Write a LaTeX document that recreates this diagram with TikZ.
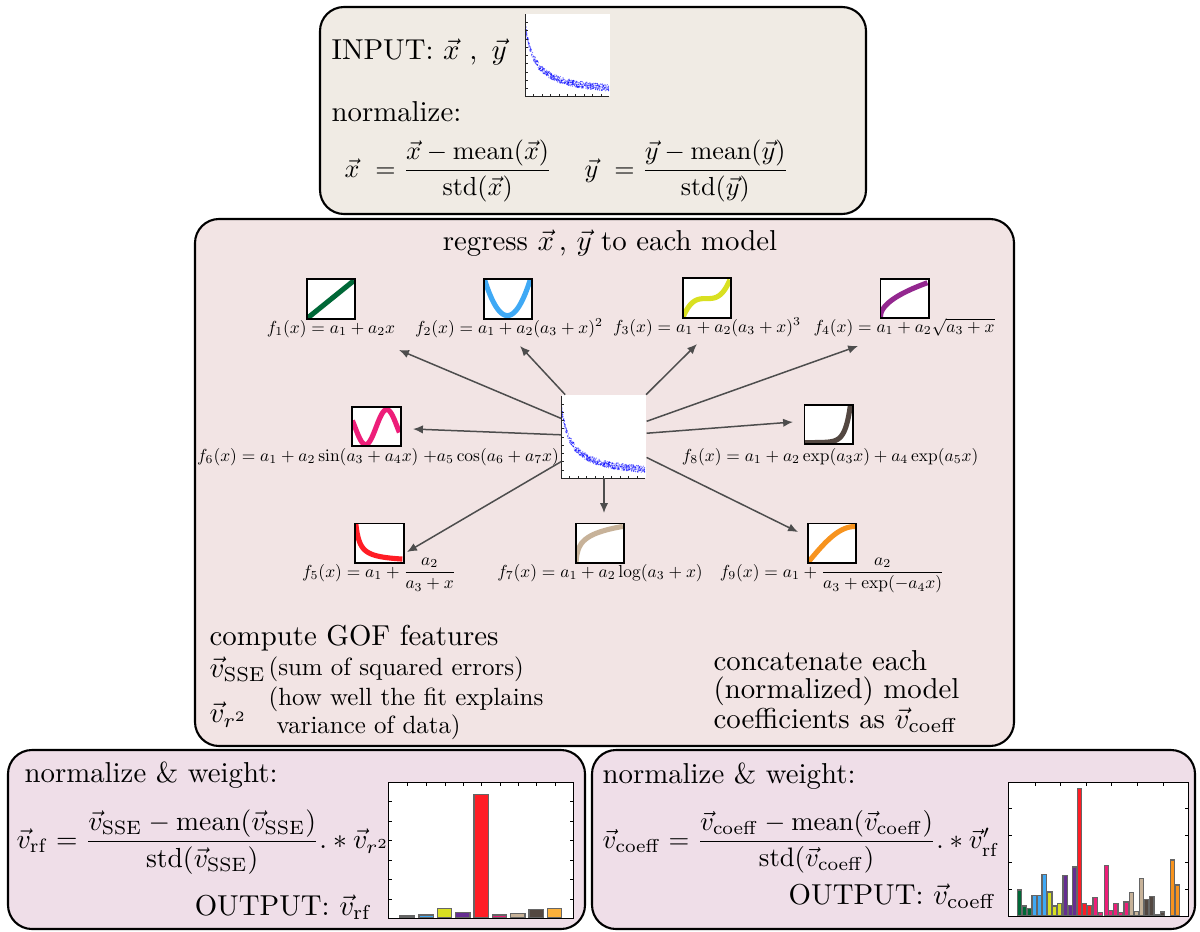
\documentclass[tikz,border=0pt]{standalone}
\usepackage{amsmath}
\usepackage{graphicx}
\usetikzlibrary{arrows.meta}
\definecolor{boxtop}{RGB}{240,235,228}
\definecolor{boxmid}{RGB}{242,228,228}
\definecolor{boxbot}{RGB}{239,222,232}
\definecolor{cG}{RGB}{0,104,55}
\definecolor{cB}{RGB}{63,169,245}
\definecolor{cY}{RGB}{217,224,33}
\definecolor{cP}{RGB}{102,45,145}
\definecolor{cPi}{RGB}{147,39,143}
\definecolor{cR}{RGB}{255,29,37}
\definecolor{cK}{RGB}{237,30,121}
\definecolor{cT}{RGB}{199,178,153}
\definecolor{cD}{RGB}{83,71,65}
\definecolor{cO}{RGB}{247,147,30}
\definecolor{cOl}{RGB}{251,176,59}
\definecolor{cN}{RGB}{27,20,100}
\definecolor{arrgray}{RGB}{77,77,77}
\newcommand\tA[1]{\scalebox{0.96}{#1}}
\newcommand\tB[1]{\scalebox{0.92}{#1}}
\newcommand\tC[1]{\scalebox{0.89}{#1}}
\newcommand\tF[1]{\scalebox{0.87}{#1}}
\newcommand\tS[1]{\scalebox{0.83}{#1}}
\newcommand\tL[1]{\scalebox{0.58}{#1}}
\newcommand\scatterplot[1]{%
  \begin{scope}[shift={(#1.south west)}, x=28pt, y=27.5pt]
    \pgfmathsetseed{11}
    \foreach \i in {1,...,560}{%
      \pgfmathsetmacro\u{rnd}%
      \pgfmathsetmacro\v{0.02+0.1/(\u+0.12)+0.08*(rnd-0.5)}%
      \fill[blue, opacity=0.5] (\u,\v) circle[radius=0.22pt];
    }
    \draw[black!85, line width=0.35pt] (0,1) -- (0,0) -- (1,0);
    \foreach \t in {0.1,0.2,...,0.95}{%
      \draw[black!85, line width=0.3pt] (\t,0) -- (\t,0.03);
      \draw[black!85, line width=0.3pt] (0,\t) -- (0.03,\t);
    }
  \end{scope}}
\newcommand\modelicon[4]{%
  \node[iconbox] (#1) at (#2) {};
  \begin{scope}
    \clip (#1.south west) rectangle (#1.north east);
    \begin{scope}[shift={(#1.south west)}, x=15.67pt, y=12.67pt]
      \draw[#3, line width=1.7pt] plot[domain=0:1, samples=80] (\x,{#4});
    \end{scope}
  \end{scope}
  \draw[iconframe] (#1.south west) rectangle (#1.north east);}
\begin{document}
\begin{tikzpicture}[x=0.3333pt,y=-0.3333pt,
  panel/.style={draw=black, line width=0.7pt, rounded corners=8pt},
  txt/.style={inner sep=0pt, font=\normalsize},
  lbl/.style={inner sep=0pt, anchor=base, font=\normalsize},
  iconbox/.style={inner sep=0pt, minimum width=15.67pt, minimum height=12.67pt, fill=white},
  iconframe/.style={draw=black, line width=0.6pt},
  plotbox/.style={inner sep=0pt, minimum width=28pt, minimum height=27.5pt, fill=white},
  arr/.style={draw=arrgray, line width=0.5pt, -{Latex[length=3.3pt,width=2.8pt]}},
  barbox/.style={draw=black!60, line width=0.35pt},
  tick/.style={draw=black, line width=0.3pt},
]
\useasboundingbox (0,0) rectangle (1200,931);
\fill[white] (0,0) rectangle (1200,931);

% panels
\draw[panel, fill=boxtop] (320,7) rectangle (866,214);
\draw[panel, fill=boxmid] (195,219) rectangle (1014,746);
\draw[panel, fill=boxbot] (8,750) rectangle (585,929);
\draw[panel, fill=boxbot] (592,750) rectangle (1195,929);

% ---------- top panel
\node[txt, anchor=base west] (inlbl) at (331,60) {\tA{INPUT: $\vec{x}$ , \,$\vec{y}$}};
\node[plotbox] (inplot) at (568,55) {};
\scatterplot{inplot}
\node[txt, anchor=base west] (norm) at (331,122) {\tA{normalize:}};
\node[txt, anchor=west] (fx) at (344,171) {\tF{$\vec{x}\ = \dfrac{\vec{x}-\mathrm{mean}(\vec{x})}{\mathrm{std}(\vec{x})}$}};
\node[txt, anchor=west] (fy) at (584,171) {\tF{$\vec{y}\ = \dfrac{\vec{y}-\mathrm{mean}(\vec{y})}{\mathrm{std}(\vec{y})}$}};

% ---------- middle panel
\node[txt, anchor=base] (title) at (610,250) {\tA{regress $\vec{x}\,$, $\vec{y}$ to each model}};
\node[plotbox] (c) at (604,436.5) {};
\scatterplot{c}

\modelicon{i1}{331,299}{cG}{\x}
\modelicon{i2}{508,299}{cB}{0.08+4*(\x-0.5)*(\x-0.5)}
\modelicon{i3}{707,298}{cY}{0.5+4*(\x-0.5)*(\x-0.5)*(\x-0.5)}
\modelicon{i4}{904.5,298.5}{cPi}{0.03+0.9*sqrt(\x)}
\modelicon{i6}{376.5,426.5}{cK}{0.5+0.46*cos(400*(\x-0.73))}
\modelicon{i8}{828.5,424.5}{cD}{0.04+exp(9*(\x-0.98))}
\modelicon{i5}{379.5,543}{cR}{0.01+0.09/(\x+0.08)}
\modelicon{i7}{600,543}{cT}{0.95+0.22*ln(\x+0.012)}
\modelicon{i9}{832,543}{cO}{0.95*sin(90*\x)}

\node[lbl] (l1) at (331,333) {\tL{$f_1(x)=a_1+a_2x$}};
\node[lbl] (l2) at (509,333) {\tL{$f_2(x)=a_1+a_2(a_3+x)^2$}};
\node[lbl] (l3) at (707,332) {\tL{$f_3(x)=a_1+a_2(a_3+x)^3$}};
\node[lbl] (l4) at (904,332) {\tL{$f_4(x)=a_1+a_2\sqrt{a_3+x}$}};
\node[lbl] (l6) at (378,461) {\tL{$f_6(x)=a_1+a_2\sin(a_3+a_4x)\;{+a_5}\cos(a_6+a_7x)$}};
\node[lbl] (l8) at (830,461) {\tL{$f_8(x)=a_1+a_2\exp(a_3x)+a_4\exp(a_5x)$}};
\node[lbl] (l5) at (379,577) {\tL{$f_5(x)=a_1+\dfrac{a_2}{a_3+x}$}};
\node[lbl] (l7) at (600,577) {\tL{$f_7(x)=a_1+a_2\log(a_3+x)$}};
\node[lbl] (l9) at (832,577) {\tL{$f_9(x)=a_1+\dfrac{a_2}{a_3+\exp(-a_4x)}$}};

\coordinate (t1) at (399,350);
\coordinate (t2) at (520,346);
\coordinate (t3) at (697,344);
\coordinate (t4) at (858,346);
\coordinate (t6) at (413,429);
\coordinate (t8) at (793,422);
\coordinate (t5) at (407,552);
\coordinate (t7) at (604,513);
\coordinate (t9) at (798,532);
\foreach \t in {t1,t2,t3,t4,t6,t8,t5,t7,t9}{\draw[arr] (c) -- (\t);}

\node[txt, anchor=base west] (gof) at (209,645) {\tA{compute GOF features}};
\node[txt, anchor=base west] (vsse) at (209,677) {\tA{$\vec{v}_{\mathrm{SSE}}$}};
\node[txt, anchor=base west] (sse) at (268,675) {\tS{(sum of squared errors)}};
\node[txt, anchor=base west] (vr2) at (209,722) {\tA{$\vec{v}_{r^2}$}};
\node[txt, anchor=base west] (r2a) at (268,705) {\tS{(how well the fit explains}};
\node[txt, anchor=base west] (r2b) at (276,733) {\tS{variance of data)}};
\node[txt, anchor=base west] (cc1) at (713,670) {\tA{concatenate each}};
\node[txt, anchor=base west] (cc2) at (713,698) {\tA{(normalized) model}};
\node[txt, anchor=base west] (cc3) at (713,728) {\tA{coefficients as $\vec{v}_{\mathrm{coeff}}$}};

% ---------- bottom left panel
\node[txt, anchor=base west] (nw1) at (24,782) {\tA{normalize \& weight:}};
\node[txt, anchor=west] (frf) at (16,842) {\tB{$\vec{v}_{\mathrm{rf}} = \dfrac{\vec{v}_{\mathrm{SSE}}-\mathrm{mean}(\vec{v}_{\mathrm{SSE}})}{\mathrm{std}(\vec{v}_{\mathrm{SSE}})}.*\vec{v}_{r^2}$}};
\node[txt, anchor=base east] (out1) at (373,915) {\tA{OUTPUT: $\vec{v}_{\mathrm{rf}}$}};
\node[inner sep=0pt, minimum width=61.33pt, minimum height=45pt, fill=white] (bl) at (481,850.5) {};
\foreach \d/\t/\c in {60/438/cN,117/435/cB,172/415/cY,227/427/cP,282/73/cR,337/435/cK,392/430/cT,447/418/cD,502/415/cOl}{
  \filldraw[barbox, fill=\c] ({380+\d/3},918) rectangle ({380+\d/3+14.3},{770+\t/3});
}
\foreach \y in {801.7,821,840.7,860,879,899}{
  \draw[tick] (389,\y) -- (392,\y);
  \draw[tick] (573,\y) -- (570,\y);
}
\foreach \xx in {407.7,426.7,445,463.3,481.7,500,518.3,536.7,555}{
  \draw[tick] (\xx,783) -- (\xx,786);
}
\draw[black, line width=0.5pt] (bl.south west) rectangle (bl.north east);

% ---------- bottom right panel
\node[txt, anchor=base west] (nw2) at (602,783) {\tA{normalize \& weight:}};
\node[txt, anchor=west] (fco) at (602,842) {\tC{$\vec{v}_{\mathrm{coeff}} = \dfrac{\vec{v}_{\mathrm{coeff}}-\mathrm{mean}(\vec{v}_{\mathrm{coeff}})}{\mathrm{std}(\vec{v}_{\mathrm{coeff}})}.*\vec{v}'_{\mathrm{rf}}$}};
\node[txt, anchor=base east] (out2) at (997,904) {\tA{OUTPUT: $\vec{v}_{\mathrm{coeff}}$}};
\node[inner sep=0pt, minimum width=59.67pt, minimum height=44.33pt, fill=white] (br) at (1098.5,849.5) {};
\foreach \d/\t/\c in {52/360/cG,66/408/cG,81/416/cG,96/377/cB,111/376/cB,126/313/cB,143/366/cY,158/408/cY,173/400/cY,189/316/cP,204/406/cP,217/291/cP,232/56/cR,247/400/cR,263/406/cR,279/382/cK,294/428/cK,313/287/cK,326/422/cK,341/400/cK,356/427/cK,372/396/cK,388/368/cT,403/424/cT,418/325/cT,433/389/cD,449/379/cD,466/434/cD,481/426/cD,511/270/cO,526/345/cO}{
  \filldraw[barbox, fill=\c] ({1000+\d/3},916) rectangle ({1000+\d/3+4.3},{770+\t/3});
}
\foreach \y in {808,835.7,862.3,889}{
  \draw[tick] (1009,\y) -- (1012,\y);
  \draw[tick] (1188,\y) -- (1185,\y);
}
\foreach \xx in {1035,1060,1086,1111.7,1137,1163}{
  \draw[tick] (\xx,783) -- (\xx,786);
}
\draw[black, line width=0.5pt] (br.south west) rectangle (br.north east);
\end{tikzpicture}
\end{document}
